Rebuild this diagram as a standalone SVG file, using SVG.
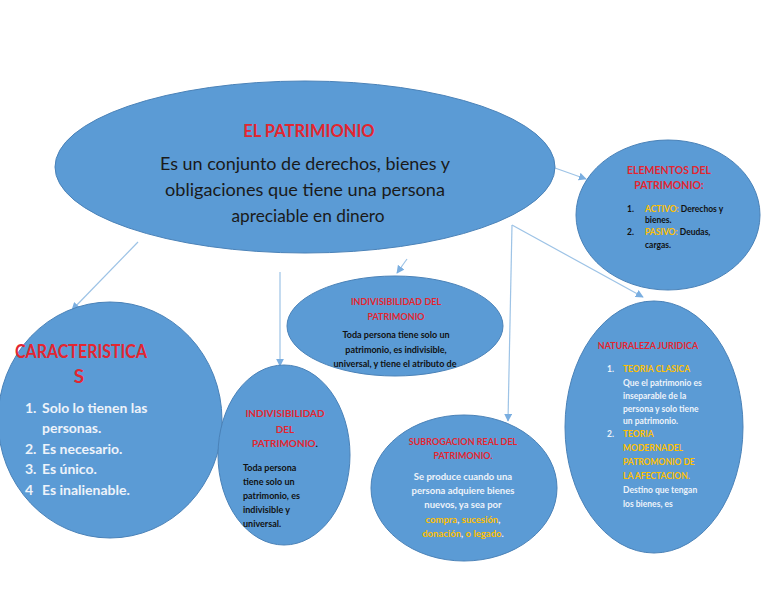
<svg xmlns="http://www.w3.org/2000/svg" width="768" height="594" viewBox="0 0 768 594">
<style>
.n{fill:#5b9bd5;stroke:#4a82b8;stroke-width:1}
.c{stroke:#9dc3e6;stroke-width:1.2;fill:none}
text{font-family:Lato,"Liberation Sans",sans-serif}
.r{fill:#e32630;font-weight:bold}
.k{fill:#111;font-weight:bold}
.w{fill:#eef3fa;font-weight:bold}
.y{fill:#ffc000;font-weight:bold}
.m{text-anchor:middle}
</style>
<defs>
<marker id="ah" viewBox="0 0 10 10" refX="9" refY="5" markerWidth="8" markerHeight="8" orient="auto" markerUnits="userSpaceOnUse">
<path d="M0,0 L10,5 L0,10 z" fill="#7aaee0"/>
</marker>
</defs>
<rect width="768" height="594" fill="#fff"/>
<g id="connectors">
<line class="c" x1="138" y1="242" x2="72" y2="310" marker-end="url(#ah)"/>
<line class="c" x1="280" y1="272" x2="280" y2="366" marker-end="url(#ah)"/>
<line class="c" x1="407" y1="259" x2="397" y2="273" marker-end="url(#ah)"/>
<line class="c" x1="555" y1="168" x2="586" y2="179" marker-end="url(#ah)"/>
<line class="c" x1="512" y1="225" x2="643" y2="297" marker-end="url(#ah)"/>
<line class="c" x1="512" y1="225" x2="508" y2="421" marker-end="url(#ah)"/>
</g>
<g id="main">
<ellipse class="n" cx="305" cy="167" rx="250" ry="86"/>
<text class="r m" x="309" y="137" font-size="16.5" font-weight="normal">EL PATRIMIONIO</text>
<text x="305" y="170" font-size="17.5" fill="#1a1a1a" class="m" textLength="290" lengthAdjust="spacingAndGlyphs">Es un conjunto de derechos, bienes y</text>
<text x="305" y="196" font-size="17.5" fill="#1a1a1a" class="m" textLength="280" lengthAdjust="spacingAndGlyphs">obligaciones que tiene una persona</text>
<text x="308" y="222" font-size="17.5" fill="#1a1a1a" class="m" textLength="153" lengthAdjust="spacingAndGlyphs">apreciable en dinero</text>
</g>
<g id="elementos">
<ellipse class="n" cx="668" cy="215" rx="92" ry="75"/>
<text class="r m" x="669" y="174" font-size="10.5">ELEMENTOS DEL</text>
<text class="r m" x="669" y="189" font-size="10.5">PATRIMONIO:</text>
<text class="k" x="627" y="212" font-size="8.5">1.</text>
<text x="645" y="212" font-size="8.5" class="k"><tspan class="y">ACTIVO:</tspan> Derechos y</text>
<text class="k" x="645" y="223" font-size="8.5">bienes.</text>
<text class="k" x="627" y="235" font-size="8.5">2.</text>
<text x="645" y="235" font-size="8.5" class="k"><tspan class="y">PASIVO:</tspan> Deudas,</text>
<text class="k" x="645" y="248" font-size="8.5">cargas.</text>
</g>
<g id="indivisibilidad-centro">
<ellipse class="n" cx="395" cy="326" rx="108" ry="50"/>
<text class="r m" x="396" y="305" font-size="9">INDIVISIBILIDAD DEL</text>
<text class="r m" x="396" y="320" font-size="9">PATRIMONIO</text>
<text class="k m" x="396" y="338" font-size="9">Toda persona  tiene  solo un</text>
<text class="k m" x="396" y="353" font-size="9">patrimonio, es indivisible,</text>
<text class="k m" x="395" y="367" font-size="9">universal, y tiene el atributo de</text>
</g>
<g id="caracteristicas">
<ellipse class="n" cx="110" cy="420" rx="112" ry="118"/>
<text class="r" x="15" y="358" font-size="19" font-weight="normal" textLength="132" lengthAdjust="spacingAndGlyphs">CARACTERISTICA</text>
<text class="r m" x="79" y="383" font-size="19" font-weight="normal">S</text>
<text class="w" x="25" y="413" font-size="14" font-weight="normal">1.</text>
<text class="w" x="42" y="413" font-size="14" font-weight="normal">Solo lo tienen las</text>
<text class="w" x="42" y="433" font-size="14" font-weight="normal">personas.</text>
<text class="w" x="25" y="454" font-size="14" font-weight="normal">2.</text>
<text class="w" x="42" y="454" font-size="14" font-weight="normal">Es necesario.</text>
<text class="w" x="25" y="474" font-size="14" font-weight="normal">3.</text>
<text class="w" x="42" y="474" font-size="14" font-weight="normal">Es único.</text>
<text class="w" x="25" y="495" font-size="14" font-weight="normal">4</text>
<text class="w" x="42" y="495" font-size="14" font-weight="normal">Es inalienable.</text>
</g>
<g id="indivisibilidad-izq">
<ellipse class="n" cx="284" cy="455" rx="66" ry="90"/>
<text class="r m" x="285" y="417" font-size="10">INDIVISIBILIDAD</text>
<text class="r m" x="285" y="433" font-size="10">DEL</text>
<text class="r m" x="285" y="447" font-size="10">PATRIMONIO<tspan fill="#111">.</tspan></text>
<text class="k" x="243" y="471" font-size="9">Toda persona</text>
<text class="k" x="243" y="485" font-size="9">tiene solo un</text>
<text class="k" x="243" y="499" font-size="9">patrimonio, es</text>
<text class="k" x="243" y="513" font-size="9">indivisible y</text>
<text class="k" x="243" y="527" font-size="9">universal.</text>
</g>
<g id="subrogacion">
<ellipse class="n" cx="464" cy="488" rx="93" ry="73"/>
<text class="r m" x="463" y="445" font-size="9">SUBROGACION REAL DEL</text>
<text class="r m" x="463" y="459" font-size="9">PATRIMONIO.</text>
<text class="w m" x="463" y="480" font-size="9.5">Se produce cuando una</text>
<text class="w m" x="463" y="494" font-size="9.5">persona adquiere bienes</text>
<text class="w m" x="463" y="508" font-size="9.5">nuevos, ya sea  por</text>
<text class="w m" x="463" y="523" font-size="9.5"><tspan class="y">compra</tspan>, <tspan class="y">sucesión</tspan>,</text>
<text class="w m" x="463" y="537" font-size="9.5"><tspan class="y">donación</tspan>, <tspan class="y">o legado</tspan>.</text>
</g>
<g id="naturaleza">
<ellipse class="n" cx="654" cy="427" rx="89" ry="126"/>
<text class="r m" x="648" y="349" font-size="9">NATURALEZA JURIDICA</text>
<text class="w" x="607" y="372" font-size="8.5">1.</text>
<text class="y" x="623" y="372" font-size="8.5">TEORIA CLASICA</text>
<text class="w" x="623" y="386" font-size="8.5">Que el patrimonio es</text>
<text class="w" x="623" y="399" font-size="8.5">inseparable de la</text>
<text class="w" x="623" y="412" font-size="8.5">persona y solo tiene</text>
<text class="w" x="623" y="424" font-size="8.5">un patrimonio.</text>
<text class="w" x="607" y="437" font-size="8.5">2.</text>
<text class="y" x="623" y="437" font-size="8.5">TEORIA</text>
<text class="y" x="623" y="451" font-size="8.5">MODERNADEL</text>
<text class="y" x="623" y="465" font-size="8.5">PATROMONIO DE</text>
<text class="y" x="623" y="479" font-size="8.5">LA AFECTACION.</text>
<text class="w" x="623" y="493" font-size="8.5">Destino que tengan</text>
<text class="w" x="623" y="507" font-size="8.5">los bienes, es</text>
</g>
</svg>
